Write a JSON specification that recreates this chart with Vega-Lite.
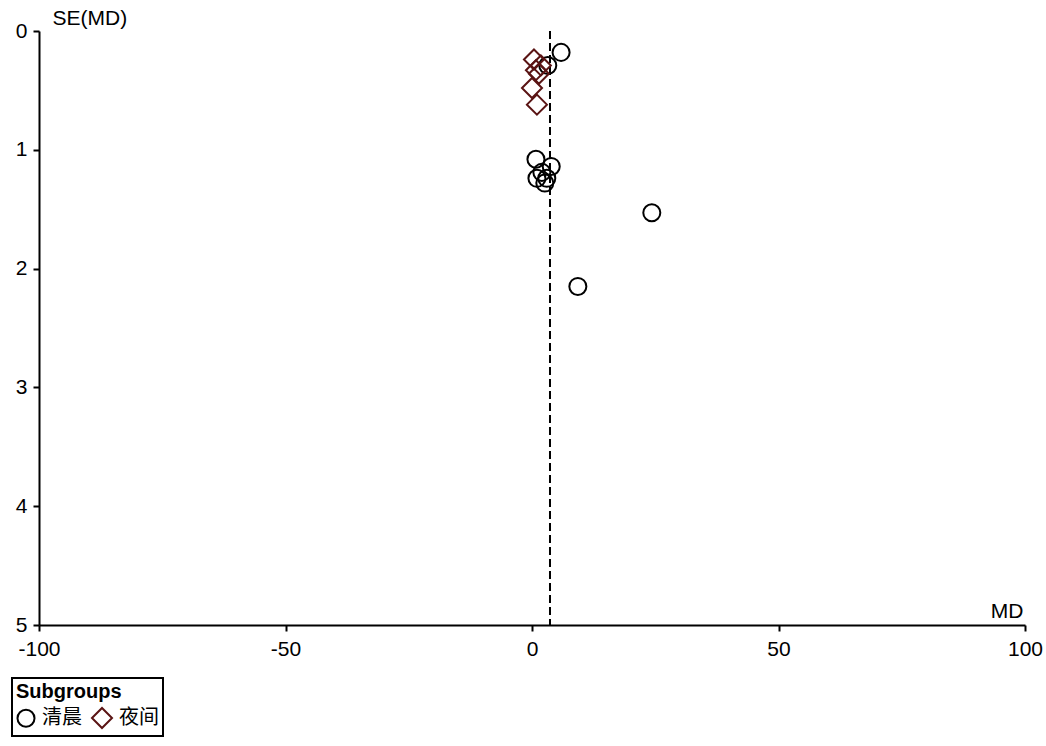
{
  "$schema": "https://vega.github.io/schema/vega-lite/v6.json",
  "width": 986,
  "height": 594,
  "autosize": {"type": "none"},
  "padding": {"left": 39, "top": 31, "right": 21, "bottom": 121},
  "background": "white",
  "config": {
    "view": {"stroke": null},
    "font": "Liberation Sans",
    "axis": {
      "domainColor": "black",
      "domainWidth": 2,
      "tickColor": "black",
      "tickWidth": 2,
      "labelColor": "black",
      "titleColor": "black",
      "labelFont": "Liberation Sans",
      "titleFont": "Liberation Sans",
      "labelFontSize": 21,
      "titleFontSize": 21,
      "titleFontWeight": "normal",
      "grid": false
    },
    "legend": {
      "orient": "none",
      "legendX": -27,
      "legendY": 647,
      "direction": "horizontal",
      "strokeColor": "black",
      "strokeWidth": 2,
      "padding": 4,
      "titlePadding": 5,
      "titleFont": "Liberation Sans",
      "titleFontSize": 20,
      "titleFontWeight": "bold",
      "titleColor": "black",
      "labelFont": "Noto Sans CJK SC",
      "labelFontSize": 20,
      "labelColor": "black",
      "symbolStrokeWidth": 2,
      "columnPadding": 6,
      "labelOffset": 6
    }
  },
  "datasets": {
    "studies": [
      {"md": 5.9, "se": 0.18, "group": "清晨"},
      {"md": 3.2, "se": 0.29, "group": "清晨"},
      {"md": 0.8, "se": 1.08, "group": "清晨"},
      {"md": 3.9, "se": 1.14, "group": "清晨"},
      {"md": 2.0, "se": 1.19, "group": "清晨"},
      {"md": 1.0, "se": 1.24, "group": "清晨"},
      {"md": 3.0, "se": 1.24, "group": "清晨"},
      {"md": 2.6, "se": 1.28, "group": "清晨"},
      {"md": 24.3, "se": 1.53, "group": "清晨"},
      {"md": 9.3, "se": 2.15, "group": "清晨"},
      {"md": 0.4, "se": 0.24, "group": "夜间"},
      {"md": 1.8, "se": 0.29, "group": "夜间"},
      {"md": 0.8, "se": 0.33, "group": "夜间"},
      {"md": 1.4, "se": 0.36, "group": "夜间"},
      {"md": 0.0, "se": 0.48, "group": "夜间"},
      {"md": 1.0, "se": 0.62, "group": "夜间"}
    ],
    "pooled": [{"md": 3.65}]
  },
  "layer": [
    {
      "data": {"name": "pooled"},
      "mark": {"type": "rule", "color": "black", "strokeWidth": 2, "strokeDash": [8, 4]},
      "encoding": {
        "x": {"field": "md", "type": "quantitative", "scale": {"domain": [-100, 100]}}
      }
    },
    {
      "data": {"name": "studies"},
      "mark": {"type": "point", "filled": false, "strokeWidth": 2, "opacity": 1},
      "encoding": {
        "x": {
          "field": "md", "type": "quantitative",
          "scale": {"domain": [-100, 100], "nice": false, "zero": false},
          "axis": {
            "values": [-100, -50, 0, 50, 100],
            "labelExpr": "datum.value < 0 ? '-' + abs(datum.value) : '' + datum.value",
            "title": "MD",
            "titleX": 984, "titleY": -4, "titleAlign": "right", "titleBaseline": "bottom", "titleAnchor": null,
            "tickSize": 6, "labelPadding": 7, "labelFlush": false
          }
        },
        "y": {
          "field": "se", "type": "quantitative",
          "scale": {"domain": [0, 5], "reverse": true, "nice": false},
          "axis": {
            "values": [0, 1, 2, 3, 4, 5],
            "title": "SE(MD)",
            "titleAngle": 0, "titleX": 13, "titleY": -3, "titleAlign": "left", "titleBaseline": "bottom",
            "tickSize": 6, "labelPadding": 6
          }
        },
        "shape": {
          "field": "group", "type": "nominal",
          "scale": {"domain": ["清晨", "夜间"], "range": ["circle", "diamond"]},
          "legend": {"title": "Subgroups"}
        },
        "stroke": {
          "field": "group", "type": "nominal",
          "scale": {"domain": ["清晨", "夜间"], "range": ["#000000", "#5a1414"]},
          "legend": {"title": "Subgroups"}
        },
        "size": {
          "field": "group", "type": "nominal",
          "scale": {"domain": ["清晨", "夜间"], "range": [290, 400]},
          "legend": {"title": "Subgroups"}
        }
      }
    }
  ]
}
